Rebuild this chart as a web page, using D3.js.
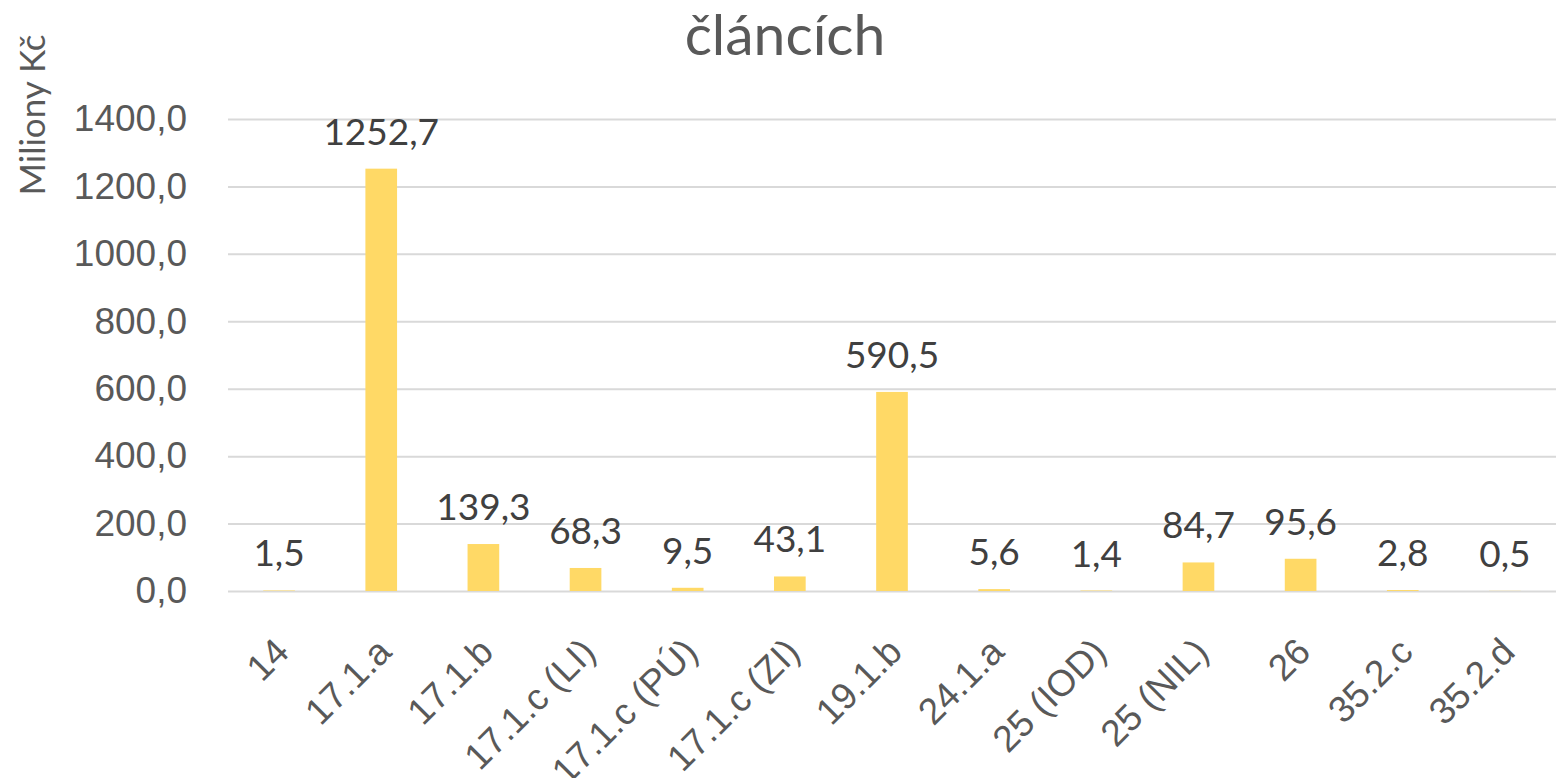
<!DOCTYPE html>
<html>
<head>
<meta charset="utf-8">
<script src="https://cdn.jsdelivr.net/npm/d3@7"></script>
<style>
  body { margin: 0; background: #fff; }
  svg { font-family: Lato, "Open Sans", sans-serif; }
</style>
</head>
<body>
<svg class="chart"></svg>
<script>
let categories = ['14', '17.1.a', '17.1.b', '17.1.c (LI)', '17.1.c (PÚ)', '17.1.c (ZI)', '19.1.b', '24.1.a', '25 (IOD)', '25 (NIL)', '26', '35.2.c', '35.2.d']
let values = [1.5, 1252.7, 139.3, 68.3, 9.5, 43.1, 590.5, 5.6, 1.4, 84.7, 95.6, 2.8, 0.5]
let yTicks = [0, 200, 400, 600, 800, 1000, 1200, 1400]
let title = 'článcích'
let yTitle = 'Miliony Kč'

let svg_width = 1556
let svg_height = 778

let margin_left = 228
let margin_top = 119
let chart_width = svg_width - margin_left
let chart_height = 591 - margin_top

let fmt = d => d3.format('.1f')(d).replace('.', ',')

let svg = d3.select('.chart')
  .attr('width', svg_width)
  .attr('height', svg_height)

let scaleX = d3.scaleBand()
  .domain(categories)
  .range([0, chart_width])
  .paddingInner(0.69)
  .paddingOuter(0.345)

let scaleY = d3.scaleLinear()
  .domain([0, 1400])
  .range([chart_height, 0])

let g = svg.append('g')
  .attr('transform', translate(margin_left, margin_top))

// gridlines + y labels
let axisY = d3.axisLeft(scaleY)
  .tickValues(yTicks)
  .tickFormat(fmt)
  .tickSize(-chart_width)
  .tickPadding(41)

g.append('g')
  .attr('class', 'y-axis')
  .call(axisY)
  .call(a => {
    a.select('.domain').remove()
    a.selectAll('.tick line').attr('stroke', '#d9d9d9').attr('stroke-width', 2)
    a.selectAll('.tick text').attr('fill', '#595959').style('font-size', '37px')
  })

// bars
g.selectAll('rect')
  .data(values)
  .enter()
  .append('rect')
  .attr('x', (d, i) => scaleX(categories[i]))
  .attr('y', d => scaleY(d))
  .attr('width', scaleX.bandwidth())
  .attr('height', d => chart_height - scaleY(d))
  .attr('fill', '#FFD966')

// value labels
g.selectAll('.val')
  .data(values)
  .enter()
  .append('text')
  .attr('class', 'val')
  .text(d => fmt(d))
  .attr('x', (d, i) => scaleX(categories[i]) + scaleX.bandwidth() / 2)
  .attr('y', d => scaleY(d) - 24)
  .attr('text-anchor', 'middle')
  .attr('fill', '#404040')
  .style('font-size', '37px')

// x axis labels
let axisX = d3.axisBottom(scaleX).tickSize(0).tickPadding(0)
g.append('g')
  .attr('class', 'x-axis')
  .attr('transform', translate(0, chart_height))
  .call(axisX)
  .call(a => {
    a.select('.domain').remove()
    a.selectAll('.tick text')
      .attr('fill', '#595959')
      .style('font-size', '37px')
      .attr('text-anchor', 'end')
      .attr('dy', 0)
      .attr('transform', 'translate(12,63) rotate(-45)')
  })

// title
svg.append('text')
  .text(title)
  .attr('x', 785)
  .attr('y', 55)
  .attr('text-anchor', 'middle')
  .attr('fill', '#595959')
  .style('font-size', '57px')

svg.append('text')
  .text(yTitle)
  .attr('transform', translate(45, 115) + ' rotate(-90)')
  .attr('text-anchor', 'middle')
  .attr('fill', '#595959')
  .style('font-size', '35px')

function translate(x, y) {
  return 'translate(' + x + ',' + y + ')';
}
</script>
</body>
</html>
